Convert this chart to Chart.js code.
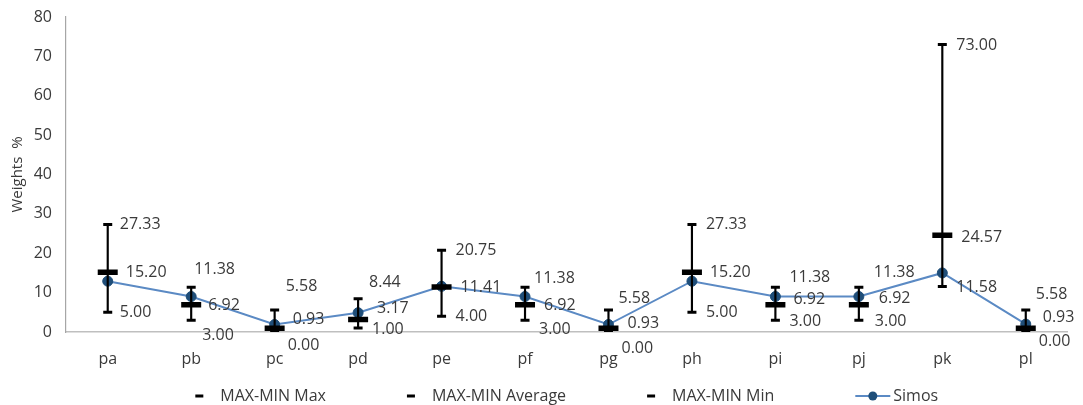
<!DOCTYPE html>
<html>
<head>
<meta charset="utf-8">
<script src="https://cdn.jsdelivr.net/npm/chart.js@4.4.0/dist/chart.umd.min.js"></script>
<style>
  html, body { margin: 0; padding: 0; background: #fff; }
  #wrap { width: 1083px; height: 405px; }
</style>
</head>
<body>
<div id="wrap"><canvas id="weightsChart" width="1083" height="405"></canvas></div>
<script>
// Values
const categories = ['pa', 'pb', 'pc', 'pd', 'pe', 'pf', 'pg', 'ph', 'pi', 'pj', 'pk', 'pl'];
const maxVals = [27.33, 11.38, 5.58, 8.44, 20.75, 11.38, 5.58, 27.33, 11.38, 11.38, 73.00, 5.58];
const avgVals = [15.20, 6.92, 0.93, 3.17, 11.41, 6.92, 0.93, 15.20, 6.92, 6.92, 24.57, 0.93];
const minVals = [5.00, 3.00, 0.00, 1.00, 4.00, 3.00, 0.00, 5.00, 3.00, 3.00, 11.58, 0.00];
const simosVals = [12.9, 9.0, 1.9, 4.9, 11.6, 9.0, 1.9, 12.9, 9.0, 9.0, 15.0, 2.0];
const yTicks = [0, 10, 20, 30, 40, 50, 60, 70, 80];

// Label nudges in pixels [dx, dy] (Excel moved some labels around)
const maxNudge = [[12, 0], [3, -18], [11, -24], [11, -16], [14, 0], [9, -9], [10, -12], [14, 0], [14, -10], [15, -15], [14, 1], [10, -16]];
const avgNudge = [[18, 0], [17, 1], [18, -9], [19, -11], [19, 0], [19, 1], [19, -5], [18, 0], [18, -5], [20, -6], [19, 2], [17, -11]];
const minNudge = [[12, 0], [11, 15], [13, 13], [14, 1], [14, 0], [14, 9], [13, 16], [14, 0], [14, 1], [16, 1], [14, 1], [13, 9]];

const FONT = '"Open Sans", "DejaVu Sans", sans-serif';
const TEXT_COLOR = '#3a3a3a';
const LINE_BLUE = '#5b8ac4';
const DOT_BLUE = '#1f4e79';

// Data labels next to the max / average / min markers
const valueLabels = {
    id: 'valueLabels',
    afterDatasetsDraw(chart) {
        const ctx = chart.ctx;
        const sets = [
            { idx: 1, vals: maxVals, nudge: maxNudge },
            { idx: 2, vals: avgVals, nudge: avgNudge },
            { idx: 3, vals: minVals, nudge: minNudge }
        ];
        ctx.save();
        ctx.font = '16px ' + FONT;
        ctx.fillStyle = TEXT_COLOR;
        ctx.textAlign = 'left';
        ctx.textBaseline = 'middle';
        sets.forEach(s => {
            const meta = chart.getDatasetMeta(s.idx);
            meta.data.forEach((pt, i) => {
                ctx.fillText(s.vals[i].toFixed(2), pt.x + s.nudge[i][0], pt.y + s.nudge[i][1]);
            });
        });
        ctx.restore();
    }
};

// Legend row at the bottom, drawn like the Excel one
const legendRow = {
    id: 'legendRow',
    afterDraw(chart) {
        const ctx = chart.ctx;
        const area = chart.chartArea;
        const y = 396;
        const gap = 81;
        ctx.save();
        ctx.font = '16px ' + FONT;
        const items = [
            { text: 'MAX-MIN Max', kind: 'dash' },
            { text: 'MAX-MIN Average', kind: 'dash' },
            { text: 'MAX-MIN Min', kind: 'dash' },
            { text: 'Simos', kind: 'line' }
        ];
        items.forEach(it => {
            it.mw = it.kind === 'dash' ? 8 : 35;
            it.tg = it.kind === 'dash' ? 17 : 3;
            it.w = it.mw + it.tg + ctx.measureText(it.text).width;
        });
        const total = items.reduce((a, it) => a + it.w, 0) + gap * (items.length - 1);
        let x = (area.left + area.right) / 2 - total / 2;
        ctx.textBaseline = 'middle';
        ctx.textAlign = 'left';
        items.forEach(it => {
            if (it.kind === 'dash') {
                ctx.fillStyle = '#000';
                ctx.fillRect(x, y - 1.5, it.mw, 3);
            } else {
                ctx.strokeStyle = LINE_BLUE;
                ctx.lineWidth = 2;
                ctx.beginPath();
                ctx.moveTo(x, y);
                ctx.lineTo(x + it.mw, y);
                ctx.stroke();
                ctx.fillStyle = DOT_BLUE;
                ctx.beginPath();
                ctx.arc(x + it.mw / 2, y, 4.5, 0, Math.PI * 2);
                ctx.fill();
            }
            ctx.fillStyle = TEXT_COLOR;
            ctx.fillText(it.text, x + it.mw + it.tg, y);
            x += it.w + gap;
        });
        ctx.restore();
    }
};

const ctx = document.getElementById('weightsChart').getContext('2d');
const weightsChart = new Chart(ctx, {
    data: {
        labels: categories,
        datasets: [
            {
                type: 'bar',
                label: 'range',
                data: categories.map((c, i) => [minVals[i], maxVals[i]]),
                backgroundColor: '#000',
                barThickness: 1.5,
                order: 3
            },
            {
                type: 'line',
                label: 'MAX-MIN Max',
                data: maxVals,
                showLine: false,
                pointStyle: 'line',
                pointRadius: 4.5,
                pointBorderWidth: 3,
                pointBorderColor: '#000',
                order: 1
            },
            {
                type: 'line',
                label: 'MAX-MIN Average',
                data: avgVals,
                showLine: false,
                pointStyle: 'line',
                pointRadius: 10,
                pointBorderWidth: 5.5,
                pointBorderColor: '#000',
                order: 0
            },
            {
                type: 'line',
                label: 'MAX-MIN Min',
                data: minVals,
                showLine: false,
                pointStyle: 'line',
                pointRadius: 4.5,
                pointBorderWidth: 3,
                pointBorderColor: '#000',
                order: 1
            },
            {
                type: 'line',
                label: 'Simos',
                data: simosVals,
                borderColor: LINE_BLUE,
                borderWidth: 2,
                pointRadius: 5,
                pointBackgroundColor: DOT_BLUE,
                pointBorderColor: DOT_BLUE,
                pointBorderWidth: 1,
                tension: 0,
                order: 4
            }
        ]
    },
    options: {
        responsive: false,
        animation: false,
        events: [],
        layout: { padding: { top: 17, right: 8, bottom: 31, left: 0 } },
        plugins: {
            legend: { display: false },
            tooltip: { enabled: false }
        },
        scales: {
            x: {
                offset: true,
                grid: { display: false, drawTicks: false },
                border: { display: true, color: '#bfbfbf', width: 1.5 },
                ticks: { color: TEXT_COLOR, font: { family: FONT, size: 16 }, padding: 18 },
                afterFit(scale) { scale.height = 42; }
            },
            y: {
                min: 0,
                max: 80,
                afterBuildTicks(scale) { scale.ticks = yTicks.map(v => ({ value: v })); },
                grid: { display: false, drawTicks: false },
                border: { display: true, color: '#a6a6a6', width: 1.2 },
                ticks: { color: TEXT_COLOR, font: { family: FONT, size: 16 }, padding: 14 },
                title: {
                    display: true,
                    text: 'Weights  %',
                    color: TEXT_COLOR,
                    font: { family: FONT, size: 15 },
                    padding: { top: 9, bottom: 0 }
                },
                afterFit(scale) {
                    scale.width = 66;
                    scale.paddingTop = 2;
                    scale.paddingBottom = 2;
                }
            }
        }
    },
    plugins: [valueLabels, legendRow]
});
</script>
</body>
</html>
